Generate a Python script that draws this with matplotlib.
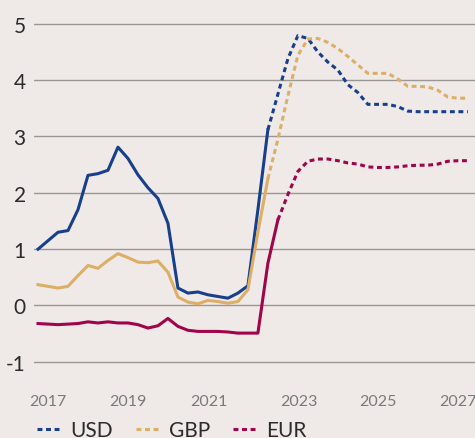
import numpy as np
import matplotlib.pyplot as plt
from matplotlib.lines import Line2D

# quarterly policy rates (%), first observation = Q4 2016
first_quarter = 2016.75
usd_actual = [1.00, 1.15, 1.30, 1.33, 1.70, 2.31, 2.34, 2.40, 2.81, 2.61, 2.32, 2.09,
              1.90, 1.46, 0.31, 0.22, 0.24, 0.19, 0.16, 0.13, 0.22, 0.35, 1.70, 3.12]
gbp_actual = [0.37, 0.34, 0.31, 0.34, 0.53, 0.71, 0.66, 0.80, 0.92, 0.85, 0.77, 0.76,
              0.79, 0.59, 0.15, 0.06, 0.03, 0.09, 0.07, 0.04, 0.07, 0.28, 1.30, 2.25]
eur_actual = [-0.32, -0.33, -0.34, -0.33, -0.32, -0.29, -0.31, -0.29, -0.31, -0.31, -0.34, -0.40,
              -0.36, -0.23, -0.37, -0.44, -0.46, -0.46, -0.46, -0.47, -0.49, -0.49, -0.49, 0.75, 1.52]
# market-implied paths, starting at the last actual quarter
usd_forecast = [3.12, 3.75, 4.38, 4.79, 4.74, 4.50, 4.32, 4.18, 3.92, 3.78, 3.57, 3.57,
                3.57, 3.53, 3.45, 3.44, 3.44, 3.44, 3.44, 3.44, 3.44]
gbp_forecast = [2.25, 2.95, 3.72, 4.44, 4.73, 4.74, 4.67, 4.56, 4.42, 4.27, 4.12, 4.12,
                4.12, 4.02, 3.89, 3.89, 3.88, 3.82, 3.70, 3.68, 3.68]
eur_forecast = [1.52, 1.97, 2.38, 2.56, 2.60, 2.60, 2.57, 2.53, 2.51, 2.46, 2.45, 2.45,
                2.46, 2.48, 2.49, 2.49, 2.51, 2.56, 2.57, 2.57]
names = ["USD", "GBP", "EUR"]
colors = ["#173f8c", "#dcae66", "#a0044a"]
year_labels = ["2017", "2019", "2021", "2023", "2025", "2027"]
year_label_pos = [2017.0, 2019.0, 2021.02, 2023.27, 2025.26, 2027.25]
y_ticks = [-1, 0, 1, 2, 3, 4, 5]

plt.rcParams['font.family'] = ['Lato', 'DejaVu Sans']
bg = "#efeae7"

fig = plt.figure(figsize=(4.75, 4.39), dpi=100, facecolor=bg)
ax = fig.add_axes([34 / 475, 0.126, 1 - 34 / 475, 0.874])
ax.set_facecolor(bg)

dash = (1.6, 1.2)
for name, col, act, fc in zip(names, colors,
                              [usd_actual, gbp_actual, eur_actual],
                              [usd_forecast, gbp_forecast, eur_forecast]):
    t_act = first_quarter + 0.25 * np.arange(len(act))
    t_fc = t_act[-1] + 0.25 * np.arange(len(fc))
    ax.plot(t_act, act, color=col, lw=2.2, solid_joinstyle='round', zorder=3)
    ax.plot(t_fc, fc, color=col, lw=2.2, dashes=dash, zorder=3)

ax.set_xlim(2016.65, 2027.68)
ax.set_ylim(-1.37, 5.44)
ax.set_yticks(y_ticks)
ax.set_yticklabels([str(v) for v in y_ticks])
ax.set_xticks(year_label_pos)
ax.set_xticklabels(year_labels)
ax.grid(axis='y', color="#9b9795", lw=1.0, zorder=1)
for s in ax.spines.values():
    s.set_visible(False)
ax.tick_params(axis='y', length=0, pad=6, labelsize=15, labelcolor="#2b2b2b")
ax.tick_params(axis='x', length=0, pad=8, labelsize=11.5, labelcolor="#7a7a7a")

handles = [Line2D([], [], color=c, lw=2.2, dashes=dash) for c in colors]
fig.legend(handles, names, loc='lower left', bbox_to_anchor=(0.06, -0.024), ncol=3,
           frameon=False, fontsize=15, handlelength=1.05, handletextpad=0.55,
           columnspacing=1.1, labelcolor="#2b2b2b", borderaxespad=0)

fig.savefig("out.png", dpi=100, facecolor=bg)
